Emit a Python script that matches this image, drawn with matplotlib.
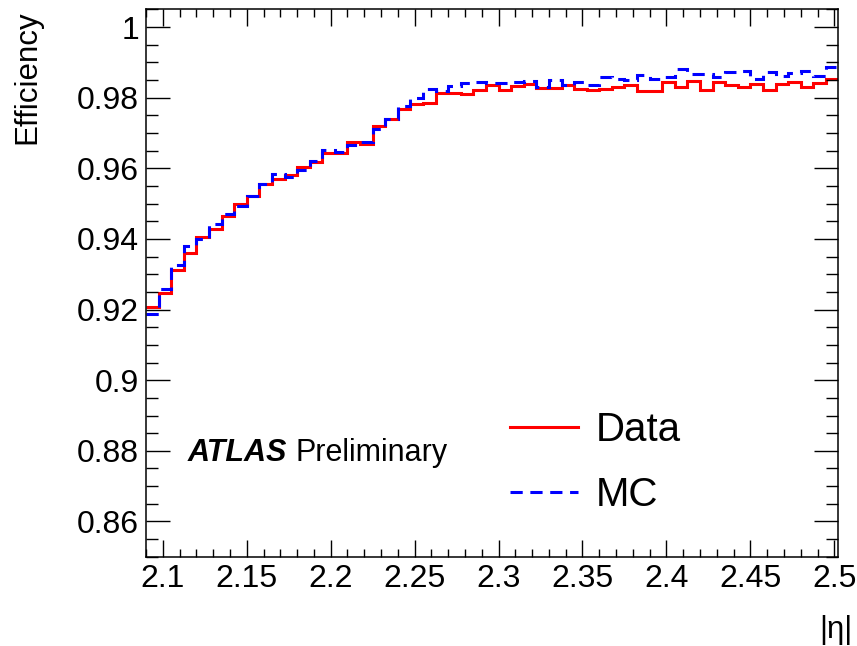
import numpy as np
import matplotlib
matplotlib.use('Agg')
import matplotlib.pyplot as plt
from matplotlib.ticker import MultipleLocator, FuncFormatter

plt.rcParams['font.family'] = ['Liberation Sans', 'DejaVu Sans']

# binning in |eta|
eta_lo = 2.09
bin_w = 0.0075

# efficiency per bin
data_eff = [0.9206, 0.9248, 0.9313, 0.9360, 0.9407, 0.9429, 0.9466, 0.9498, 0.9523, 0.9555,
            0.9571, 0.9582, 0.9604, 0.9619, 0.9644, 0.9644, 0.9676, 0.9668, 0.9719, 0.9739,
            0.9767, 0.9783, 0.9785, 0.9813, 0.9813, 0.9811, 0.9821, 0.9837, 0.9821, 0.9832,
            0.9840, 0.9828, 0.9828, 0.9837, 0.9825, 0.9821, 0.9825, 0.9831, 0.9836, 0.9820,
            0.9820, 0.9846, 0.9830, 0.9847, 0.9821, 0.9845, 0.9836, 0.9830, 0.9838, 0.9822,
            0.9838, 0.9846, 0.9830, 0.9842, 0.9853]
mc_eff = [0.9187, 0.9259, 0.9327, 0.9379, 0.9401, 0.9443, 0.9470, 0.9492, 0.9523, 0.9557,
          0.9583, 0.9575, 0.9594, 0.9620, 0.9651, 0.9646, 0.9667, 0.9674, 0.9712, 0.9741,
          0.9778, 0.9800, 0.9824, 0.9818, 0.9832, 0.9841, 0.9845, 0.9843, 0.9843, 0.9844,
          0.9848, 0.9831, 0.9850, 0.9837, 0.9844, 0.9836, 0.9859, 0.9853, 0.9849, 0.9864,
          0.9854, 0.9858, 0.9881, 0.9867, 0.9867, 0.9860, 0.9873, 0.9875, 0.9854, 0.9874,
          0.9863, 0.9869, 0.9876, 0.9861, 0.9886]

edges = eta_lo + bin_w * np.arange(len(data_eff) + 1)

fig = plt.figure(figsize=(8.57, 6.46), dpi=100)
ax = fig.add_axes([0.1704, 0.1382, 0.808, 0.8471])

ax.stairs(data_eff, edges, color='red', lw=2.2, baseline=None, label='Data')
ax.stairs(mc_eff, edges, color='blue', lw=2.2, ls=(0, (4, 2.5)), baseline=None, label='MC')

ax.set_xlim(2.09, 2.5025)
ax.set_ylim(0.85, 1.005)

ax.xaxis.set_major_locator(MultipleLocator(0.05))
ax.xaxis.set_minor_locator(MultipleLocator(0.01))
ax.yaxis.set_major_locator(MultipleLocator(0.02))
ax.yaxis.set_minor_locator(MultipleLocator(0.005))
fmt = FuncFormatter(lambda v, p: '%g' % round(v, 3))
ax.xaxis.set_major_formatter(fmt)
ax.yaxis.set_major_formatter(fmt)

for s in ax.spines.values():
    s.set_linewidth(1.1)
ax.tick_params(which='both', direction='in', top=True, right=True, width=1.0, labelsize=23)
ax.tick_params(axis='x', which='major', length=12, pad=5)
ax.tick_params(axis='x', which='minor', length=6)
ax.tick_params(axis='y', which='major', length=17, pad=5)
ax.tick_params(axis='y', which='minor', length=8.5)

fig.text(27 / 857, 1 - 10 / 646, 'Efficiency', rotation=90, ha='center', va='top', fontsize=22.5)
fig.text(852 / 857, 1 - 615 / 646, '|η|', ha='right', va='top', fontsize=22.5)

fig.text(188 / 857, 1 - 461 / 646, 'ATLAS', fontsize=22, fontweight='bold', fontstyle='italic', va='baseline')
fig.text(295 / 857, 1 - 461 / 646, 'Preliminary', fontsize=22, va='baseline')

ax.legend(loc='upper left', bbox_to_anchor=(0.5256, 0.2662), frameon=False, fontsize=29,
          handlelength=1.7, handletextpad=0.42, labelspacing=0.68, borderaxespad=0, borderpad=0)

fig.savefig('out.png', dpi=100)
